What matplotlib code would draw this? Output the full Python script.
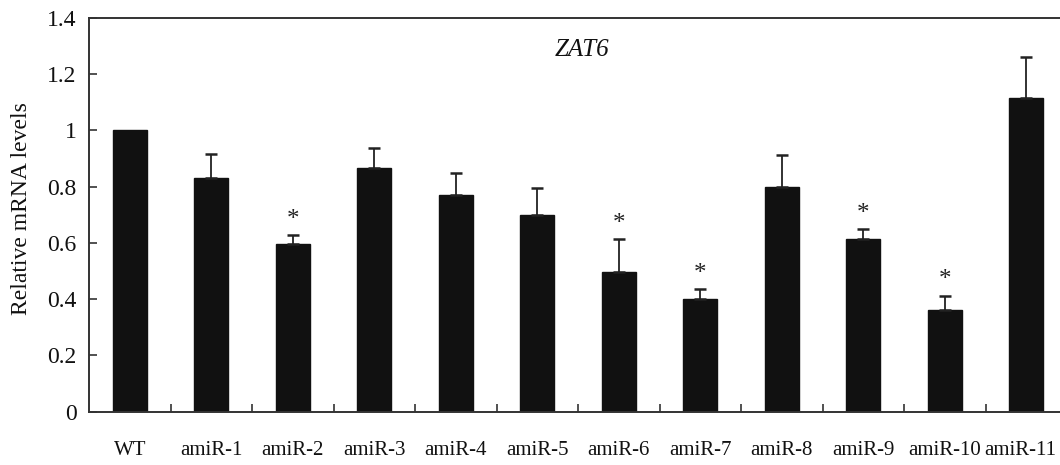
import matplotlib
matplotlib.use("Agg")
import matplotlib.pyplot as plt
import matplotlib.transforms as mtransforms
import numpy as np

categories = ["WT", "amiR-1", "amiR-2", "amiR-3", "amiR-4", "amiR-5", "amiR-6",
              "amiR-7", "amiR-8", "amiR-9", "amiR-10", "amiR-11"]
values = [1.0, 0.83, 0.595, 0.868, 0.77, 0.70, 0.497, 0.402, 0.798, 0.615, 0.362, 1.117]
errors = [0.0, 0.085, 0.033, 0.07, 0.08, 0.097, 0.116, 0.034, 0.116, 0.033, 0.051, 0.144]
significant = [False, False, True, False, False, False, True, True, False, True, True, False]
yticks = [0, 0.2, 0.4, 0.6, 0.8, 1.0, 1.2, 1.4]
ytick_labels = ["0", "0.2", "0.4", "0.6", "0.8", "1", "1.2", "1.4"]
gene = "ZAT6"

plt.rcParams["font.family"] = ["Liberation Serif", "DejaVu Serif"]

fig = plt.figure(figsize=(10.6, 4.65), dpi=100)
ax = fig.add_axes([89/1060, 1-411.7/465, (1067-89)/1060, (411.7-18)/465])

x = np.arange(len(categories))
ax.bar(x, values, width=0.42, color="#111111", edgecolor="#111111", linewidth=1, zorder=2)
errs = np.array(errors)
mask = errs > 0
ax.errorbar(x[mask], np.array(values)[mask], yerr=[np.zeros(mask.sum()), errs[mask]],
            fmt="none", ecolor="#222222", elinewidth=1.3, capsize=4, capthick=1.8, zorder=3)

for xi, v, e, s in zip(x, values, errors, significant):
    if s:
        ax.annotate("*", (xi, v + e), xytext=(0, 3), textcoords="offset points",
                    ha="center", va="bottom", fontsize=18, color="#222222")

ax.set_xlim(-0.5, len(categories) - 0.5)
ax.set_ylim(0, 1.4)
ax.set_yticks(yticks)
ax.set_yticklabels(ytick_labels)
ax.set_xticks(x)
ax.set_xticklabels(categories)
ax.set_xticks(x[:-1] + 0.5, minor=True)
ax.tick_params(axis="x", which="major", length=0, pad=21, labelsize=15, colors="#111111")
ax.tick_params(axis="x", which="minor", direction="in", length=6, width=1.2, color="#333333")
ax.tick_params(axis="y", direction="in", length=6, width=1.2, pad=9, labelsize=17,
               color="#333333", labelcolor="#111111")

# nudge the last label so it stays inside the canvas, as in the reference
last = ax.get_xticklabels()[-1]
last.set_transform(last.get_transform() + mtransforms.ScaledTranslation(-6/100, 0, fig.dpi_scale_trans))

for side in ["left", "top", "bottom"]:
    ax.spines[side].set_color("#333333")
    ax.spines[side].set_linewidth(1.4)
ax.spines["right"].set_visible(False)

ax.set_ylabel("Relative mRNA levels", fontsize=17, color="#111111")
ax.yaxis.set_label_coords(-57/978, 0.515)
ax.text(582/1060, 1-50/465, gene, transform=fig.transFigure, fontsize=18, style="italic",
        ha="center", va="center", color="#111111")

fig.savefig("out.png", dpi=100, facecolor="white")
